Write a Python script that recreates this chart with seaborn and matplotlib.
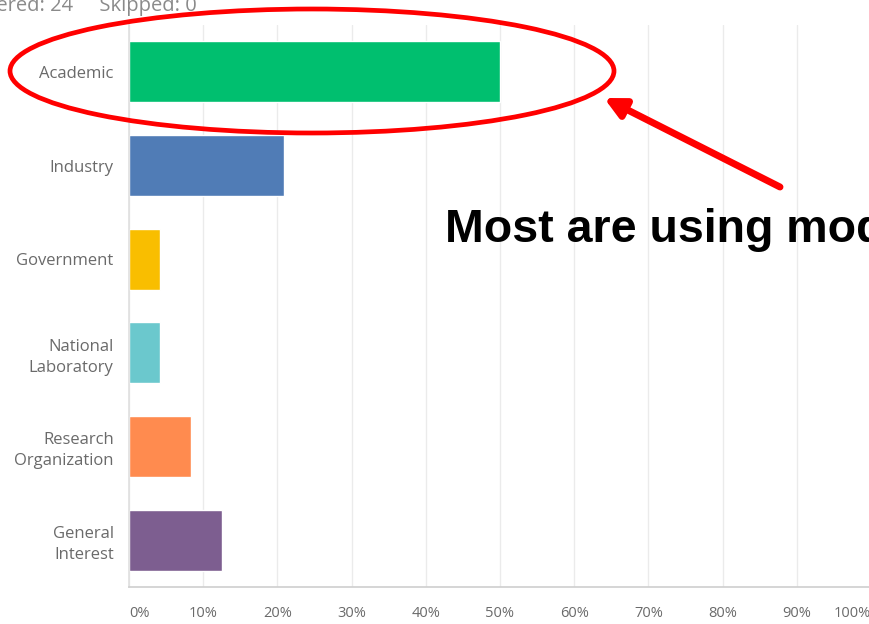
import pandas as pd
import matplotlib
matplotlib.use("Agg")
import matplotlib.pyplot as plt
import seaborn as sns
from matplotlib.patches import Ellipse

# survey answers (share of 24 respondents)
categories = ["Academic", "Industry", "Government", "National\nLaboratory",
              "Research\nOrganization", "General\nInterest"]
shares = [50.0, 20.83, 4.17, 4.17, 8.33, 12.5]
bar_colors = ["#00BF6F", "#507CB6", "#F9BE00", "#6BC8CD", "#FF8B4F", "#7D5E90"]
x_ticks = [0, 10, 20, 30, 40, 50, 60, 70, 80, 90, 100]
x_tick_labels = ["0%", "10%", "20%", "30%", "40%", "50%", "60%", "70%", "80%", "90%", "100%"]

sns.set_theme(style="white")
plt.rcParams['font.family'] = ['Open Sans', 'DejaVu Sans']

df = pd.DataFrame({"category": categories, "share": shares})

fig = plt.figure(figsize=(8.7, 6.24), dpi=100)
ax = fig.add_axes([129 / 870, 1 - 587 / 624, 742 / 870, 562 / 624])

sns.barplot(data=df, x="share", y="category", hue="category", palette=bar_colors,
            order=categories, width=0.65, saturation=1, legend=False, ax=ax)

ax.set_xlim(0, 100)
ax.set_ylim(5.5, -0.5)
ax.set_xticks(x_ticks)
ax.set_xticklabels(x_tick_labels)
ax.set(xlabel="", ylabel="")
ax.grid(axis="x", color="#ebebeb", linewidth=1)
ax.set_axisbelow(True)
for side in ["top", "right"]:
    ax.spines[side].set_visible(False)
ax.spines["left"].set_color("#e0e0e0")
ax.spines["bottom"].set_color("#d0d0d0")
ax.tick_params(axis="y", length=0, pad=11, labelsize=12, labelcolor="#6a6a6a")
ax.tick_params(axis="x", length=0, pad=14, labelsize=10.5, labelcolor="#6a6a6a")
xl = ax.get_xticklabels()
xl[0].set_ha("left")
xl[-1].set_ha("right")
for lab in ax.get_yticklabels():
    lab.set_linespacing(1.4)

# cropped header
fig.text(-54 / 870, 1 - 6 / 624, "Answered: 24     Skipped: 0", fontsize=14.5,
         color="#8a8a8a", va="center", ha="left")

# red annotation
ell = Ellipse((312 / 870, 1 - 71 / 624), 604 / 870, 124 / 624, transform=fig.transFigure,
              fill=False, edgecolor="#FF0000", linewidth=3.4, zorder=10)
fig.add_artist(ell)
ax.annotate("", xy=(604 / 870, 1 - 98 / 624), xycoords="figure fraction",
            xytext=(780 / 870, 1 - 187 / 624), textcoords="figure fraction",
            arrowprops=dict(arrowstyle="-|>,head_length=1.0,head_width=0.5",
                            color="#FF0000", lw=5, shrinkA=0, shrinkB=0),
            annotation_clip=False)
fig.text(445 / 870, 1 - 242 / 624, "Most are using models", fontsize=33.5,
         fontweight="bold", family=["Liberation Sans", "DejaVu Sans"],
         color="black", va="baseline", ha="left")

fig.savefig("out.png", dpi=100)
